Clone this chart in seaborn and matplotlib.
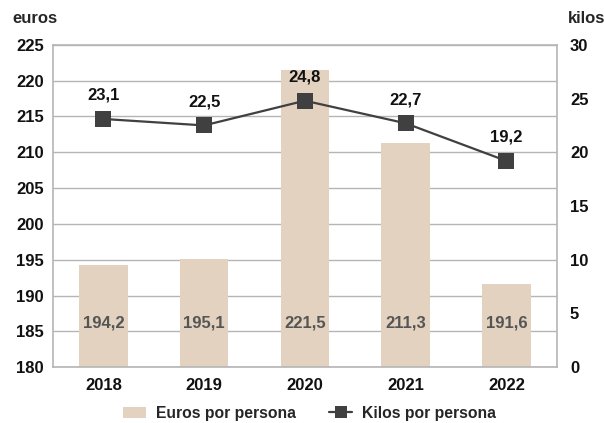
import matplotlib
matplotlib.use("Agg")
import matplotlib.pyplot as plt
import seaborn as sns
import pandas as pd
from matplotlib.patches import Patch
from matplotlib.lines import Line2D

years = ["2018", "2019", "2020", "2021", "2022"]
euros = [194.2, 195.1, 221.5, 211.3, 191.6]
kilos = [23.1, 22.5, 24.8, 22.7, 19.2]
euro_labels = ["194,2", "195,1", "221,5", "211,3", "191,6"]
kilo_labels = ["23,1", "22,5", "24,8", "22,7", "19,2"]

sns.set_style("white")
plt.rcParams['font.family'] = ['Liberation Sans', 'DejaVu Sans']
plt.rcParams['font.weight'] = 'bold'

df = pd.DataFrame({"year": years, "euros": euros, "kilos": kilos})

fig = plt.figure(figsize=(6.04, 4.23), dpi=100)
ax = fig.add_axes([0.0877, 0.132, 0.834, 0.762])

bar_col = "#e2d2bf"
line_col = "#404040"
grid_col = "#b5b5b5"
FS = 12

ax.set_ylim(180, 225)
ax.set_yticks(range(180, 226, 5))
ax.yaxis.grid(True, color=grid_col, linewidth=1)
ax.set_axisbelow(True)
sns.barplot(data=df, x="year", y="euros", color=bar_col, width=0.48, ax=ax,
            zorder=2, linewidth=0, saturation=1)
for s in ax.spines.values():
    s.set_color(grid_col)
    s.set_linewidth(1.2)
ax.set_xlabel("")
ax.set_ylabel("")
ax.tick_params(axis="y", length=0, labelsize=FS, colors="#111111", pad=6.5)
ax.tick_params(axis="x", length=0, labelsize=FS, colors="#111111", pad=8)
for t in ax.get_xticklabels() + ax.get_yticklabels():
    t.set_fontweight("bold")
ax.set_xlim(-0.5, 4.5)
for i, lab in enumerate(euro_labels):
    ax.text(i, 186.1, lab, ha="center", va="center", fontsize=FS,
            fontweight="bold", color="#555555", zorder=3)

ax2 = ax.twinx()
ax2.set_ylim(0, 30)
ax2.set_yticks(range(0, 31, 5))
sns.lineplot(x=list(range(len(years))), y=kilos, ax=ax2, color=line_col,
             marker="s", markersize=11.5, linewidth=1.6, markeredgewidth=0, zorder=4)
ax2.set_ylabel("")
ax2.tick_params(axis="y", length=0, labelsize=FS, colors="#111111", pad=9.5)
for t in ax2.get_yticklabels():
    t.set_fontweight("bold")
for s in ax2.spines.values():
    s.set_visible(False)
for i, lab in enumerate(kilo_labels):
    ax2.text(i, kilos[i] + 2.2, lab, ha="center", va="center", fontsize=FS,
             fontweight="bold", color="#111111", zorder=5)
ax2.set_xlim(-0.5, 4.5)

fig.text(0.02, 0.957, "euros", fontsize=FS, fontweight="bold", ha="left", va="center")
fig.text(0.94, 0.957, "kilos", fontsize=FS, fontweight="bold", ha="left", va="center")

LFS = 11.3
handles = [Patch(facecolor=bar_col, edgecolor="none"),
           Line2D([0], [0], color=line_col, marker="s", markersize=9, linewidth=1.6, markeredgewidth=0)]
fig.legend(handles, ["Euros por persona", "Kilos por persona"], loc="center",
           bbox_to_anchor=(0.513, 0.023), ncol=2, frameon=False,
           handlelength=1.45, columnspacing=2.1, handletextpad=0.65,
           prop={"weight": "bold", "size": LFS})

fig.savefig("out.png", dpi=100)
